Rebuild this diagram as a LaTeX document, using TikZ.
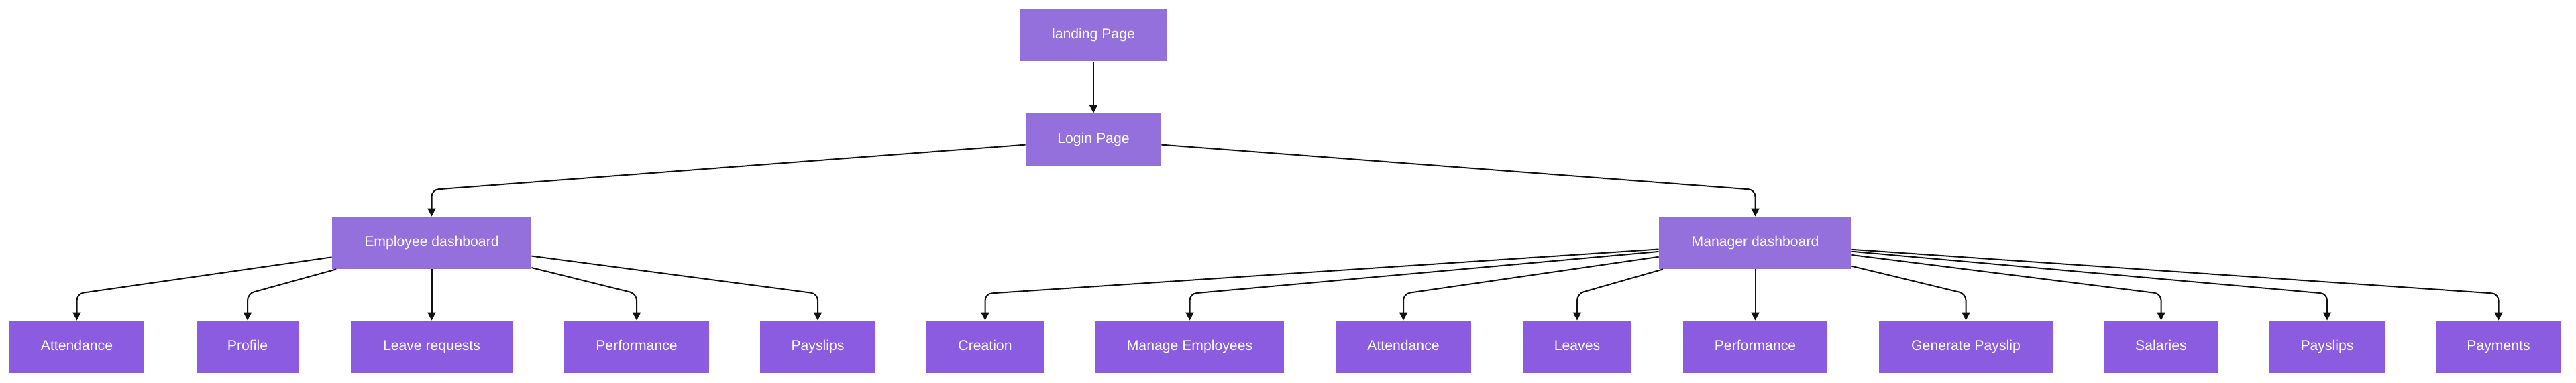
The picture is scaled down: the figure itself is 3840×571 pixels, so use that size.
\documentclass[tikz,border=0pt]{standalone}
\usepackage{fontspec}
\setmainfont{Liberation Sans}
\usetikzlibrary{arrows.meta}
\definecolor{topfill}{HTML}{9370DB}
\definecolor{leaffill}{HTML}{8B5CE0}
\definecolor{edgecol}{HTML}{111111}
\tikzset{
  box/.style={rectangle, inner sep=0pt, minimum height=39pt, text=white,
    text height=7.6pt, text depth=2.3pt,
    font=\fontsize{10.6pt}{12pt}\selectfont},
  upper/.style={box, fill=topfill},
  leaf/.style={box, fill=leaffill},
  edge/.style={draw=edgecol, line width=1pt, rounded corners=5pt,
    -{Triangle[length=6pt,width=6pt]}}
}
\begin{document}
\begin{tikzpicture}[x=0.5pt,y=-0.5pt]
\useasboundingbox (0,0) rectangle (3840,571);
% coordinates of the bend rows
\coordinate (bendE) at (0,283);
\coordinate (bendL) at (0,438);
% upper nodes
\node[upper, minimum width=109.5pt] (landing) at (1630,52.5) {landing Page};
\node[upper, minimum width=101pt] (login) at (1630,208) {Login Page};
\node[upper, minimum width=148.5pt] (emp) at (643.5,362) {Employee dashboard};
\node[upper, minimum width=143.5pt] (mgr) at (2616.5,362) {Manager dashboard};
% leaves
\node[leaf, minimum width=100.5pt] (att1) at (114.5,517) {Attendance};
\node[leaf, minimum width=76pt] (prof) at (369,517) {Profile};
\node[leaf, minimum width=120.5pt] (leavereq) at (643.5,517) {Leave requests};
\node[leaf, minimum width=108pt] (perf1) at (949,517) {Performance};
\node[leaf, minimum width=86pt] (pay1) at (1219,517) {Payslips};
\node[leaf, minimum width=87.5pt] (creation) at (1468.5,517) {Creation};
\node[leaf, minimum width=140.5pt] (manage) at (1773.5,517) {Manage Employees};
\node[leaf, minimum width=101pt] (att2) at (2092,517) {Attendance};
\node[leaf, minimum width=81pt] (leaves) at (2351,517) {Leaves};
\node[leaf, minimum width=107.5pt] (perf2) at (2616.5,517) {Performance};
\node[leaf, minimum width=129.5pt] (genpay) at (2930.5,517) {Generate Payslip};
\node[leaf, minimum width=84.5pt] (salaries) at (3221.5,517) {Salaries};
\node[leaf, minimum width=86pt] (pay2) at (3469,517) {Payslips};
\node[leaf, minimum width=93.5pt] (payments) at (3724.5,517) {Payments};
% edges
\draw[edge] (landing.south) -- (login.north);
\draw[edge] (login) -- (emp.north |- bendE) -- (emp.north);
\draw[edge] (login) -- (mgr.north |- bendE) -- (mgr.north);
\draw[edge] (emp) -- (att1.north |- bendL) -- (att1.north);
\draw[edge] (emp) -- (prof.north |- bendL) -- (prof.north);
\draw[edge] (emp.south) -- (leavereq.north);
\draw[edge] (emp) -- (perf1.north |- bendL) -- (perf1.north);
\draw[edge] (emp) -- (pay1.north |- bendL) -- (pay1.north);
\draw[edge] (mgr) -- (creation.north |- bendL) -- (creation.north);
\draw[edge] (mgr) -- (manage.north |- bendL) -- (manage.north);
\draw[edge] (mgr) -- (att2.north |- bendL) -- (att2.north);
\draw[edge] (mgr) -- (leaves.north |- bendL) -- (leaves.north);
\draw[edge] (mgr.south) -- (perf2.north);
\draw[edge] (mgr) -- (genpay.north |- bendL) -- (genpay.north);
\draw[edge] (mgr) -- (salaries.north |- bendL) -- (salaries.north);
\draw[edge] (mgr) -- (pay2.north |- bendL) -- (pay2.north);
\draw[edge] (mgr) -- (payments.north |- bendL) -- (payments.north);
\end{tikzpicture}
\end{document}
